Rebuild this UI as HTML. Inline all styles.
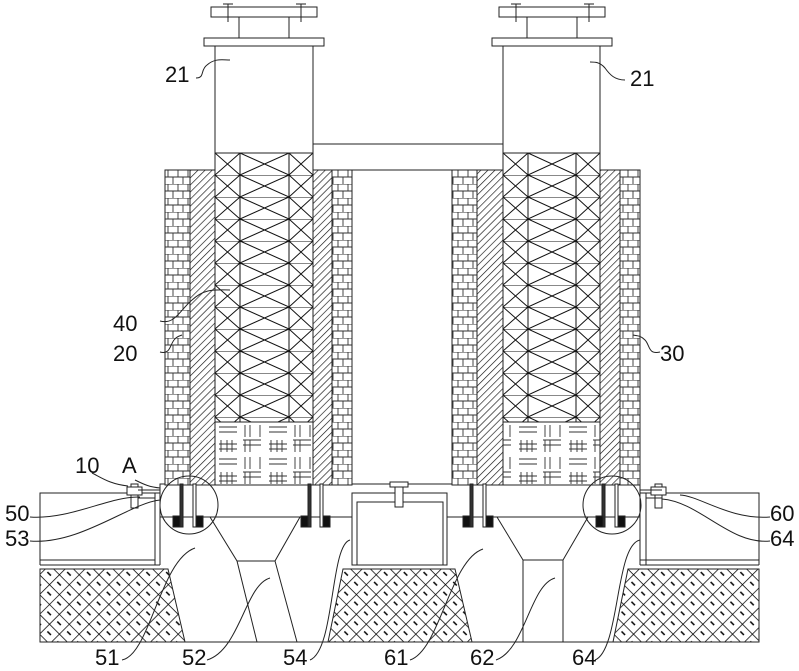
<!DOCTYPE html><html><head><style>body{margin:0;background:#fff}svg{display:block}text{font-family:"Liberation Sans",sans-serif;font-size:22px;fill:#111}</style></head><body>
<svg width="799" height="671" viewBox="0 0 799 671" xmlns="http://www.w3.org/2000/svg">
<defs>
<pattern id="brick" width="10" height="14" patternUnits="userSpaceOnUse" x="165" y="170">
<rect width="10" height="14" fill="#fff"/><path d="M0 0H10M0 7H10M3 0V7M8 7V14" stroke="#333" stroke-width="0.9"/></pattern>
<pattern id="hatch" width="5" height="5" patternUnits="userSpaceOnUse" patternTransform="rotate(45)"><rect width="5" height="5" fill="#fff"/><path d="M0 0V5" stroke="#111" stroke-width="1.3"/></pattern>
<pattern id="cross" width="98" height="22" patternUnits="userSpaceOnUse" x="215" y="153">
<rect width="98" height="22" fill="#fff"/><path d="M0 0H98M25 0V22M74 0V22M0 0L25 22M25 0L0 22M25 0L74 22M74 0L25 22M74 0L98 22M98 0L74 22" stroke="#111" stroke-width="1" fill="none"/></pattern>
<pattern id="cross2" width="97" height="22" patternUnits="userSpaceOnUse" x="503" y="153">
<rect width="97" height="22" fill="#fff"/><path d="M0 0H97M25 0V22M73 0V22M0 0L25 22M25 0L0 22M25 0L73 22M73 0L25 22M73 0L97 22M97 0L73 22" stroke="#111" stroke-width="1" fill="none"/></pattern>
<pattern id="weave" width="50" height="32" patternUnits="userSpaceOnUse" x="215" y="422">
<rect width="50" height="32" fill="#fff"/><path d="M4 5H22M4 10H22M4 22H22M4 27H22M30 3V15M35 3V15M30 18V30M35 18V30M28 18H46M28 23H46M45 3V15M6 18V30M12 18V30M17 18V30" stroke="#333" stroke-width="0.9"/></pattern>
<pattern id="ground" width="14" height="14" patternUnits="userSpaceOnUse" patternTransform="rotate(45)"><rect width="14" height="14" fill="#fff"/><path d="M0 0H14M0 0V14M4 7H9" stroke="#000" stroke-width="1.5"/></pattern>
</defs>
<g stroke="#222" stroke-width="1" fill="none">
<path d="M40 569H168L185 642H40Z" fill="url(#ground)"/>
<path d="M343 569H455L472 642H328Z" fill="url(#ground)"/>
<path d="M628 569H759V642H613Z" fill="url(#ground)"/>
<path d="M40 642H759"/>
<path d="M40 565V493H160M40 565H160M759 565V493H640M759 565H640M40 560H155M640 560H759"/>
<path d="M155 493V565M160 500V565M640 500V565M646 493V565"/>
<rect x="160" y="484" width="480" height="33" fill="#fff"/>
<path d="M210 517L237 561L257 642M300 517L275 561L297 642M237 561H275"/>
<path d="M497 517L523 560V642M588 517L563 560V642M523 560H563"/>
<rect x="352" y="493" width="95" height="72" fill="#fff"/><rect x="357" y="502" width="86" height="63"/>
<rect x="395" y="482" width="8" height="25" fill="#fff"/><rect x="390" y="482" width="18" height="5" fill="#fff"/>
<rect x="131" y="484" width="7" height="24" fill="#fff"/><rect x="127" y="487" width="15" height="8" fill="#fff"/>
<rect x="655" y="484" width="7" height="24" fill="#fff"/><rect x="651" y="487" width="15" height="8" fill="#fff"/>
<path d="M138 490H160M138 498H155M662 490H640M662 498H646"/>
<rect x="165" y="170" width="25" height="315" fill="url(#brick)"/>
<rect x="190" y="170" width="25" height="315" fill="url(#hatch)"/>
<rect x="215" y="153" width="98" height="269" fill="url(#cross)"/>
<rect x="215" y="422" width="98" height="63" fill="url(#weave)"/>
<rect x="313" y="170" width="19" height="315" fill="url(#hatch)"/>
<rect x="332" y="170" width="20" height="315" fill="url(#brick)"/>
<rect x="452" y="170" width="25" height="315" fill="url(#brick)"/>
<rect x="477" y="170" width="26" height="315" fill="url(#hatch)"/>
<rect x="503" y="153" width="97" height="269" fill="url(#cross2)"/>
<rect x="503" y="422" width="97" height="63" fill="url(#weave)"/>
<rect x="600" y="170" width="20" height="315" fill="url(#hatch)"/>
<rect x="620" y="170" width="20" height="315" fill="url(#brick)"/>
<path d="M313 144H503M352 170H452"/>
<rect x="215" y="46" width="98" height="107"/><rect x="204" y="38" width="120" height="8"/><rect x="239" y="17" width="50" height="21"/><rect x="211" y="7" width="106" height="10"/>
<rect x="503" y="46" width="97" height="107"/><rect x="492" y="38" width="120" height="8"/><rect x="527" y="17" width="50" height="21"/><rect x="499" y="7" width="106" height="10"/>
<path d="M223 4H233M228 4V22M296 4H306M301 4V22M511 4H521M516 4V22M584 4H594M589 4V22"/>
<g fill="#fff"><rect x="180" y="484" width="3" height="43" fill="#333"/><rect x="193" y="484" width="3" height="43"/><rect x="308" y="484" width="3" height="43" fill="#333"/><rect x="320" y="484" width="3" height="43"/><rect x="470" y="484" width="3" height="43" fill="#333"/><rect x="483" y="484" width="3" height="43"/><rect x="602" y="484" width="3" height="43" fill="#333"/><rect x="615" y="484" width="3" height="43"/></g>
<g fill="#111"><rect x="173" y="516" width="7" height="11"/><rect x="196" y="516" width="7" height="11"/><rect x="301" y="516" width="7" height="11"/><rect x="323" y="516" width="7" height="11"/><rect x="463" y="516" width="7" height="11"/><rect x="486" y="516" width="7" height="11"/><rect x="596" y="516" width="7" height="11"/><rect x="618" y="516" width="7" height="11"/></g>
<circle cx="189" cy="505" r="29"/><circle cx="612" cy="505" r="29"/>
<path d="M196 78C205 78 200 70 207 65C215 58 222 60 230 60"/>
<path d="M625 80C615 80 610 75 605 68C600 62 595 62 590 62"/>
<path d="M160 321C175 325 180 310 192 300C205 288 215 290 230 290"/>
<path d="M160 352C170 355 170 345 174 340C177 336 180 336 182 335"/>
<path d="M660 352C648 355 650 345 645 340C640 335 637 336 633 335"/>
<path d="M92 473C102 478 110 484 128 486M135 480C145 485 150 487 160 488"/>
<path d="M30 517C70 520 110 496 140 497M30 541C80 545 130 503 160 500"/>
<path d="M770 517C730 520 700 496 680 495M770 541C730 545 700 502 662 499"/>
<path d="M122 660C150 655 160 560 195 548"/>
<path d="M207 660C240 650 245 585 270 578"/>
<path d="M310 660C335 650 330 545 350 540"/>
<path d="M410 660C440 650 450 560 483 549"/>
<path d="M496 660C525 650 530 585 555 578"/>
<path d="M595 660C620 650 615 545 640 540"/>
</g>
<text x="165" y="82">21</text><text x="630" y="86">21</text><text x="113" y="331">40</text><text x="113" y="361">20</text><text x="660" y="361">30</text>
<text x="75" y="473">10</text><text x="122" y="473">A</text><text x="5" y="521">50</text><text x="5" y="546">53</text>
<text x="770" y="521">60</text><text x="770" y="546">64</text>
<text x="95" y="665">51</text><text x="182" y="665">52</text><text x="283" y="665">54</text><text x="384" y="665">61</text><text x="470" y="665">62</text><text x="572" y="665">64</text>
</svg></body></html>
